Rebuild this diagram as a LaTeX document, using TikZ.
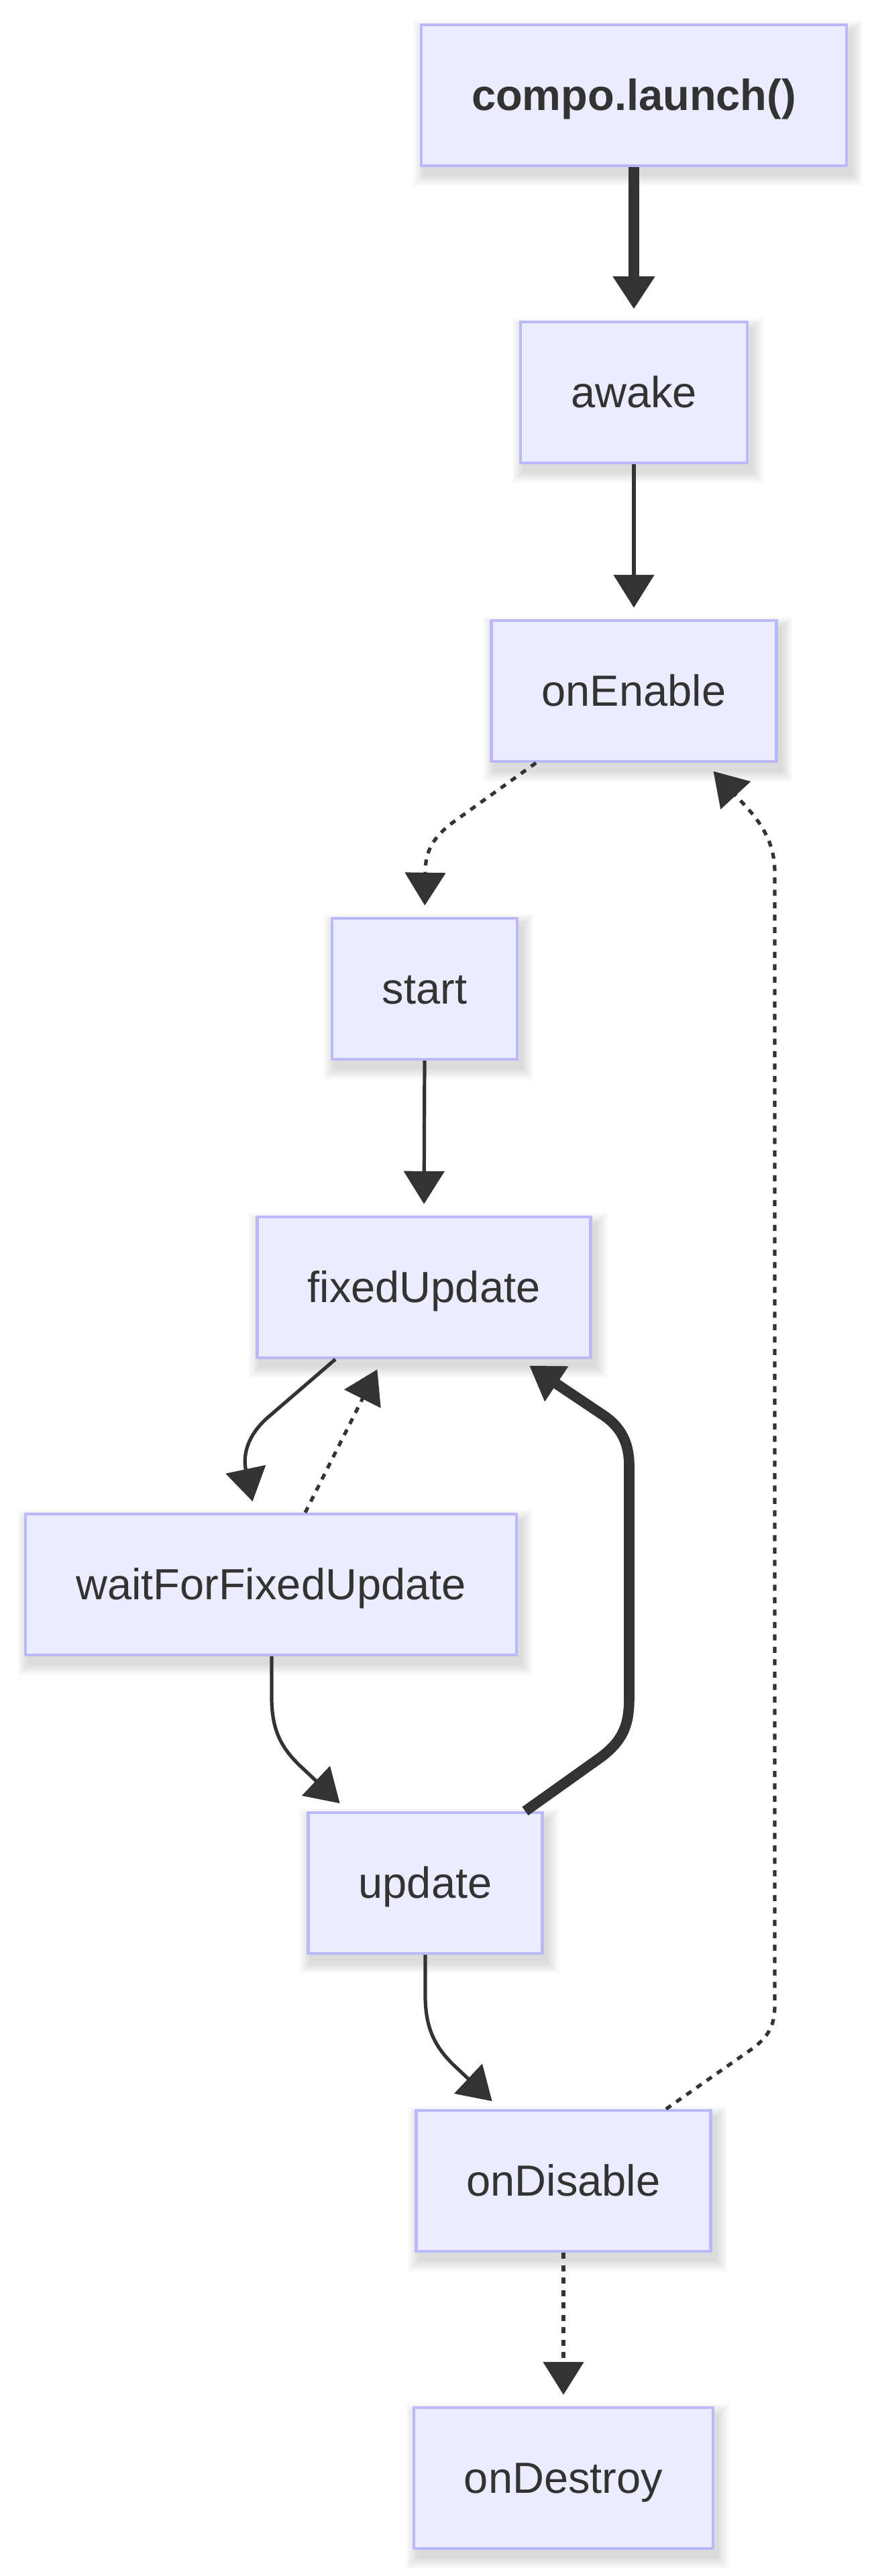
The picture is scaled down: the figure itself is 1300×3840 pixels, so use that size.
\documentclass[tikz,border=0pt]{standalone}
\usepackage{fontspec}
\setmainfont{Liberation Sans}
\usetikzlibrary{arrows.meta,calc}
\definecolor{boxfill}{HTML}{ECECFF}
\definecolor{boxborder}{RGB}{186,186,250}
\definecolor{linecol}{HTML}{333333}
\definecolor{textcol}{HTML}{333333}
\pgfdeclarelayer{background}
\pgfsetlayers{background,main}
\tikzset{
  box/.style={draw=boxborder, fill=boxfill, line width=2.2pt, minimum height=105pt,
    inner xsep=37.5pt, inner ysep=0pt, text=textcol, text height=29.4pt, text depth=6.9pt,
    font=\fontsize{32.5}{39}\selectfont},
  tip/.style={-{Triangle[width=30pt,length=24.5pt]}, shorten >=8.5pt},
  conn/.style={draw=linecol, line width=2.6pt, tip},
  thickconn/.style={draw=linecol, line width=7.8pt, tip},
  dotconn/.style={draw=linecol, line width=2.6pt, dash pattern=on 4.5pt off 4.75pt, tip},
}
\begin{document}
\begin{tikzpicture}[x=0.5pt,y=-0.5pt]
\useasboundingbox (0,0) rectangle (1300,3840);

\node[box, font=\fontsize{32.5}{39}\selectfont\bfseries] (compo) at (945,142) {compo.launch()};
\node[box] (awake) at (945,585) {awake};
\node[box] (onEnable) at (945,1030) {onEnable};
\node[box] (start) at (633,1474) {start};
\node[box] (fixedUpdate) at (632,1919) {fixedUpdate};
\node[box] (waitFor) at (404,2362) {waitForFixedUpdate};
\node[box] (update) at (634,2807) {update};
\node[box] (onDisable) at (840,3251) {onDisable};
\node[box] (onDestroy) at (840,3694) {onDestroy};

\begin{pgfonlayer}{background}
\fill[white] (0,0) rectangle (1300,3840);
\foreach \n in {compo,awake,onEnable,start,fixedUpdate,waitFor,update,onDisable,onDestroy}{
  \foreach \d in {1,4,7,10,13,16}{
    \fill[black,opacity=0.022] ($(\n.north west)+(6-\d,12-\d)$) rectangle ($(\n.south east)+(6+\d,12+\d)$);
  }
}
\end{pgfonlayer}

% edges
\draw[thickconn] (compo.south) -- (awake.north);
\draw[conn] (awake.south) -- (onEnable.north);
\draw[dotconn] ($(onEnable.south)+(-146,0)$) -- (682,1221) .. controls (646,1246) and (634,1268) .. (634,1300) -- (start.north);
\draw[conn] (start.south) -- (fixedUpdate.north);
\draw[conn] ($(fixedUpdate.south)+(-132,0)$) -- (398,2114) .. controls (368,2141) and (362,2170) .. ($(waitFor.north)+(-24,0)$);
\draw[dotconn] ($(waitFor.north)+(51,0)$) -- ($(fixedUpdate.south)+(-62,0)$);
\draw[conn] ($(waitFor.south)+(1,0)$) -- (405,2530) .. controls (405,2580) and (420,2605) .. (445,2630) -- ($(update.north)+(-115,0)$);
\draw[thickconn] ($(update.north)+(149,0)$) -- (895,2620) .. controls (930,2594) and (938,2570) .. (938,2530) -- (938,2185) .. controls (938,2150) and (925,2127) .. (900,2110) -- ($(fixedUpdate.south)+(143,0)$);
\draw[conn] (update.south) -- (634,2975) .. controls (634,3025) and (650,3052) .. (675,3077) -- ($(onDisable.north)+(-94,0)$);
\draw[dotconn] ($(onDisable.north)+(153,0)$) -- (1120,3055) .. controls (1145,3037) and (1155,3020) .. (1155,2990) -- (1155,1300) .. controls (1155,1262) and (1140,1232) .. (1110,1200) -- ($(onEnable.south)+(107,0)$);
\draw[dotconn] (onDisable.south) -- (onDestroy.north);
\end{tikzpicture}
\end{document}
